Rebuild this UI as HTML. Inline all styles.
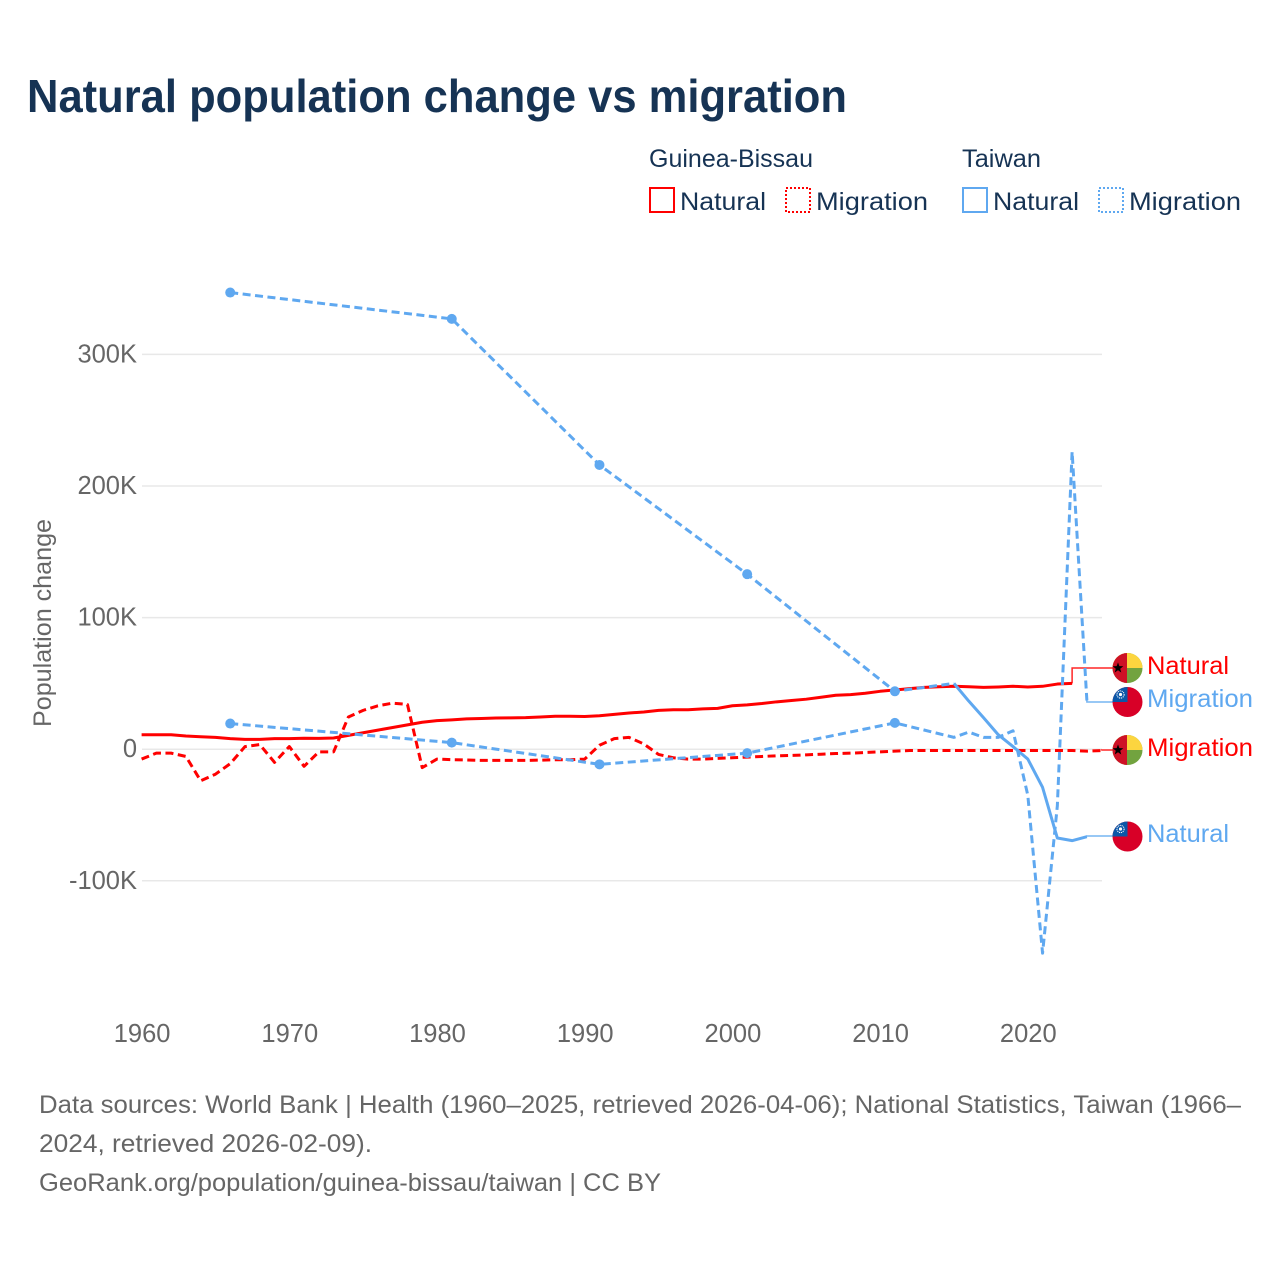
<!DOCTYPE html>
<html lang="en">
<head>
<meta charset="utf-8">
<title>Natural population change vs migration</title>
<style>
html,body{margin:0;padding:0;background:#fff;}
svg{display:block;font-family:"Liberation Sans",sans-serif;}
</style>
</head>
<body>
<svg id="chart" xmlns="http://www.w3.org/2000/svg" width="1280" height="1280" viewBox="0 0 1280 1280">
  <rect width="1280" height="1280" fill="#ffffff"/>
  <text x="27" y="112" font-size="46" font-weight="700" fill="#163354" textLength="820" lengthAdjust="spacingAndGlyphs">Natural population change vs migration</text>

  <g font-size="25" fill="#163354">
    <text x="649" y="167" textLength="164" lengthAdjust="spacingAndGlyphs">Guinea-Bissau</text>
    <text x="962" y="167" textLength="79" lengthAdjust="spacingAndGlyphs">Taiwan</text>
    <rect x="650" y="188" width="24" height="24" fill="none" stroke="#ff0000" stroke-width="2"/>
    <text x="680" y="210" textLength="86" lengthAdjust="spacingAndGlyphs">Natural</text>
    <rect x="786" y="188" width="24" height="24" fill="none" stroke="#ff0000" stroke-width="2" stroke-dasharray="2 2"/>
    <text x="816" y="210" textLength="112" lengthAdjust="spacingAndGlyphs">Migration</text>
    <rect x="963" y="188" width="24" height="24" fill="none" stroke="#5fa8f0" stroke-width="2"/>
    <text x="993" y="210" textLength="86" lengthAdjust="spacingAndGlyphs">Natural</text>
    <rect x="1099" y="188" width="24" height="24" fill="none" stroke="#5fa8f0" stroke-width="2" stroke-dasharray="2 2"/>
    <text x="1129" y="210" textLength="112" lengthAdjust="spacingAndGlyphs">Migration</text>
  </g>

  <g id="grid"></g>
  <g id="yticks" font-size="25.5" fill="#666666"></g>
  <g id="xticks" font-size="25.5" fill="#666666"></g>
  <text transform="translate(51 623) rotate(-90)" text-anchor="middle" font-size="25" fill="#666666" textLength="208" lengthAdjust="spacingAndGlyphs">Population change</text>

  <g id="series"></g>
  <g id="end-labels" font-size="25"></g>

  <g font-size="25" fill="#666666">
    <text x="39" y="1113" textLength="1202" lengthAdjust="spacingAndGlyphs">Data sources: World Bank | Health (1960–2025, retrieved 2026-04-06); National Statistics, Taiwan (1966–</text>
    <text x="39" y="1152" textLength="333" lengthAdjust="spacingAndGlyphs">2024, retrieved 2026-02-09).</text>
    <text x="39" y="1191" textLength="622" lengthAdjust="spacingAndGlyphs">GeoRank.org/population/guinea-bissau/taiwan | CC BY</text>
  </g>
</svg>

<script>
var xTickLabels = ['1960', '1970', '1980', '1990', '2000', '2010', '2020'];
var yTickValues = [300, 200, 100, 0, -100];
var yTickLabels = ['300K', '200K', '100K', '0', '-100K'];

var gbYears = [1960,1961,1962,1963,1964,1965,1966,1967,1968,1969,1970,1971,1972,1973,1974,1975,1976,1977,1978,1979,1980,1981,1982,1983,1984,1985,1986,1987,1988,1989,1990,1991,1992,1993,1994,1995,1996,1997,1998,1999,2000,2001,2002,2003,2004,2005,2006,2007,2008,2009,2010,2011,2012,2013,2014,2015,2016,2017,2018,2019,2020,2021,2022,2023,2024,2025];
var gbNatural = [11,11,11,10,9.5,9,8,7.5,7.5,8,8,8.3,8.2,8.5,10.5,12.5,14.5,16.5,18.5,20.5,21.7,22.3,23,23.3,23.7,23.8,24,24.5,25,25,24.8,25.4,26.5,27.5,28.3,29.5,30,30,30.6,31,33,33.7,34.7,36,37,38,39.5,41,41.5,42.5,44,45,46,47,47.5,47.8,47.5,47,47.3,47.8,47.3,47.8,49.5,50];
var gbMigration = [-7.5,-3,-3,-5.5,-24,-19,-11,2,3.5,-10,2,-13,-2,-2,24.5,29.5,33,35,34,-14,-7.5,-8,-8.2,-8.5,-8.5,-8.5,-8.5,-8.3,-8,-8,-7.5,3,8,9,4,-4,-6.5,-7.5,-7.5,-7,-6.5,-6,-5.5,-5,-4.7,-4.3,-3.8,-3.3,-3,-2.5,-2,-1.5,-1,-1,-1,-1,-1,-1,-1,-1,-1,-1,-1,-1,-1.5,-1];

var twNaturalYears = [1966,1981,1991,2001,2011,2015,2016,2017,2018,2019,2020,2021,2022,2023,2024];
var twNatural = [347,327,216,133,44,50,36.6,24,11,2,-7.5,-29,-67.5,-69.5,-66.5];
var twMigrationYears = [1966,1981,1991,2001,2011,2015,2016,2017,2018,2019,2020,2021,2022,2023,2024];
var twMigration = [19.5,5,-11.5,-3,20,9,13,9,9,14,-35,-155,-43,226,37];

var SVGNS = 'http://www.w3.org/2000/svg';
var RED = '#ff0000';
var BLUE = '#5fa8f0';

function xScale(year) { return 141.6 + (year - 1960) * 14.77; }
function yScale(k) { return 749.2 - k * 1.316; }

function make(tag, parent, attrs) {
  var el = document.createElementNS(SVGNS, tag);
  for (var k in attrs) el.setAttribute(k, attrs[k]);
  parent.appendChild(el);
  return el;
}

var gridG = document.getElementById('grid');
var yG = document.getElementById('yticks');
var xG = document.getElementById('xticks');
var seriesG = document.getElementById('series');
var labelsG = document.getElementById('end-labels');

yTickValues.forEach(function (v, i) {
  var ln = make('line', gridG, { x1: 142, x2: 1102, y1: yScale(v), y2: yScale(v), stroke: '#e8e8e8', 'stroke-width': 1.5 });
  
  
  var t = make('text', yG, { x: 137, y: yScale(v) + 8, 'text-anchor': 'end' });
  
  
  t.textContent = yTickLabels[i];
});

xTickLabels.forEach(function (label) {
  var t = make('text', xG, { x: xScale(Number(label)) + 0.5, y: 1042, 'text-anchor': 'middle' });
  
  
  t.textContent = label;
});

function pathFrom(years, values) {
  return years.map(function (yr, i) {
    return (i ? 'L' : 'M') + xScale(yr).toFixed(2) + ' ' + yScale(values[i]).toFixed(2);
  }).join(' ');
}

function drawLine(name, years, values, color, dashed) {
  var p = make('path', seriesG, { d: pathFrom(years, values), fill: 'none', stroke: color, 'stroke-width': 3, 'stroke-linejoin': 'round' });
  if (dashed) p.setAttribute('stroke-dasharray', '8 4.5');
  
  
}

/* natural series: contiguous years are solid, gaps between surveys are dashed */
function drawGappySolid(name, years, values, color) {
  var solidY = [], solidV = [];
  for (var i = 0; i < years.length; i++) {
    if ((i > 0 && years[i] - years[i - 1] === 1) || (i + 1 < years.length && years[i + 1] - years[i] === 1)) {
      solidY.push(years[i]);
      solidV.push(values[i]);
    }
  }
  var n = years.length - solidY.length;
  drawLine(name + '-gap', years.slice(0, n + 1), values.slice(0, n + 1), color, true);
  drawLine(name, solidY, solidV, color, false);
}

function drawDots(name, years, values, color) {
  for (var i = 0; i < years.length; i++) {
    var isolated = (i === 0 || years[i] - years[i - 1] > 1) && (i + 1 < years.length && years[i + 1] - years[i] > 1);
    if (!isolated) continue;
    var c = make('circle', seriesG, { cx: xScale(years[i]), cy: yScale(values[i]), r: 5, fill: color });
    
    
  }
}

function drawConnector(name, year, value, labelY, color) {
  var p = make('path', seriesG, {
    d: 'M' + xScale(year).toFixed(2) + ' ' + yScale(value).toFixed(2) + ' V' + labelY + ' H1113',
    fill: 'none', stroke: color, 'stroke-width': 1.5, 'stroke-opacity': 0.85
  });
  
  
}

function drawLabel(name, text, y, color, width) {
  var t = make('text', labelsG, { x: 1147, y: y, fill: color, textLength: width, lengthAdjust: 'spacingAndGlyphs' });
  
  
  t.textContent = text;
}

var clipCount = 0;
function drawFlag(name, kind, cy) {
  var cx = 1127.5, r = 15;
  var id = 'flag-clip-' + (clipCount++);
  var clip = make('clipPath', labelsG, { id: id });
  make('circle', clip, { cx: cx, cy: cy, r: r });
  var g = make('g', labelsG, { 'clip-path': 'url(#' + id + ')' });
  
  
  if (kind === 'gb') {
    make('rect', g, { x: cx - r, y: cy - r, width: r * 2, height: r * 2, fill: '#72a33f' });
    make('rect', g, { x: cx - r, y: cy - r, width: r * 2, height: r, fill: '#fcd53f' });
    make('rect', g, { x: cx - r, y: cy - r, width: r - 0.5, height: r * 2, fill: '#ce1126' });
    var pts = [];
    for (var i = 0; i < 10; i++) {
      var rad = i % 2 ? 2.3 : 5.6;
      var a = -Math.PI / 2 + i * Math.PI / 5;
      pts.push((cx - 9.5 + rad * Math.cos(a)).toFixed(2) + ',' + (cy + rad * Math.sin(a)).toFixed(2));
    }
    make('polygon', g, { points: pts.join(' '), fill: '#000000' });
  } else {
    make('rect', g, { x: cx - r, y: cy - r, width: r * 2, height: r * 2, fill: '#d80027' });
    make('rect', g, { x: cx - r, y: cy - r, width: r, height: r, fill: '#0b57a8' });
    make('circle', g, { cx: cx - 7, cy: cy - 7.5, r: 3.6, fill: 'none', stroke: '#ffffff', 'stroke-width': 1, 'stroke-dasharray': '1.2 0.8' });
    make('circle', g, { cx: cx - 7, cy: cy - 7.5, r: 1.6, fill: '#ffffff' });
  }
}

/* Guinea-Bissau */
drawLine('line-guinea-bissau-natural', gbYears.slice(0, gbNatural.length), gbNatural, RED, false);
drawLine('line-guinea-bissau-migration', gbYears, gbMigration, RED, true);
drawConnector('connector-guinea-bissau-natural', gbYears[gbNatural.length - 1], gbNatural[gbNatural.length - 1], 668, RED);
drawConnector('connector-guinea-bissau-migration', gbYears[gbYears.length - 1], gbMigration[gbMigration.length - 1], 750, RED);

/* Taiwan */
drawLine('line-taiwan-migration', twMigrationYears, twMigration, BLUE, true);
drawDots('taiwan-migration', twMigrationYears, twMigration, BLUE);
drawGappySolid('line-taiwan-natural', twNaturalYears, twNatural, BLUE);
drawDots('taiwan-natural', twNaturalYears, twNatural, BLUE);
drawConnector('connector-taiwan-migration', twMigrationYears[twMigrationYears.length - 1], twMigration[twMigration.length - 1], 702, BLUE);
drawConnector('connector-taiwan-natural', twNaturalYears[twNaturalYears.length - 1], twNatural[twNatural.length - 1], 836, BLUE);

/* End labels */
drawFlag('flag-guinea-bissau-natural', 'gb', 668);
drawFlag('flag-taiwan-migration', 'tw', 702);
drawFlag('flag-guinea-bissau-migration', 'gb', 750);
drawFlag('flag-taiwan-natural', 'tw', 836.5);
drawLabel('end-label-guinea-bissau-natural', 'Natural', 674, RED, 82);
drawLabel('end-label-taiwan-migration', 'Migration', 707, BLUE, 106);
drawLabel('end-label-guinea-bissau-migration', 'Migration', 756, RED, 106);
drawLabel('end-label-taiwan-natural', 'Natural', 842, BLUE, 82);
</script>
</body>
</html>
